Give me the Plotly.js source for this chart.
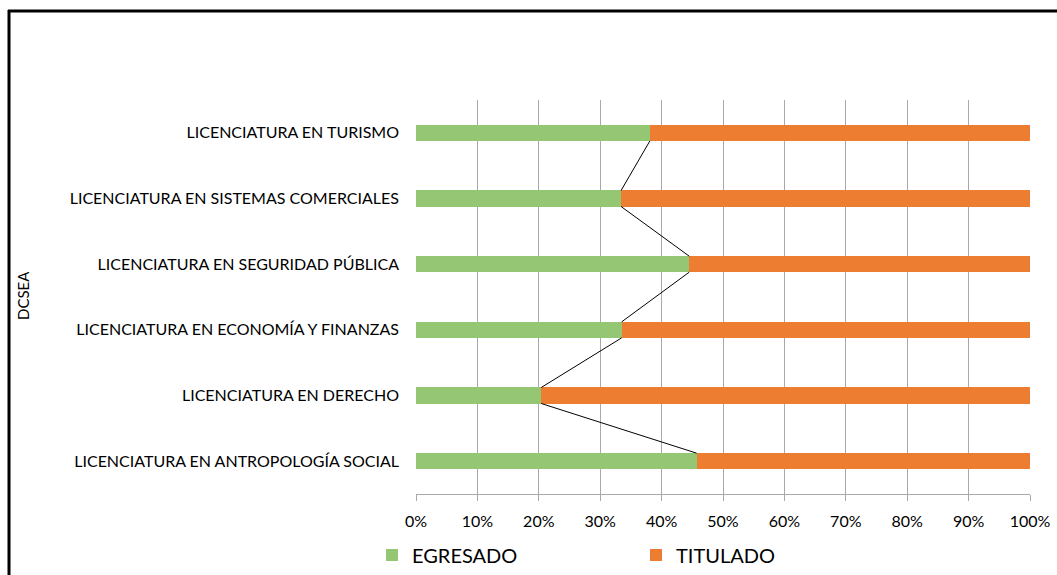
<!DOCTYPE html>
<html>
<head>
<meta charset="utf-8">
<script src="https://cdn.plot.ly/plotly-3.0.1.min.js"></script>
<style>
  html, body {margin: 0; padding: 0; background: #fff;}
  #chart {width: 1057px; height: 575px;}
</style>
</head>
<body>
<div id="chart"></div>
<script>
// categories, bottom to top as plotted
const programas = [
  'LICENCIATURA EN ANTROPOLOGÍA SOCIAL',
  'LICENCIATURA EN DERECHO',
  'LICENCIATURA EN ECONOMÍA Y FINANZAS',
  'LICENCIATURA EN SEGURIDAD PÚBLICA',
  'LICENCIATURA EN SISTEMAS COMERCIALES',
  'LICENCIATURA EN TURISMO'
];
const egresado = [45.7, 20.4, 33.5, 44.5, 33.4, 38.1];
const titulado = [54.3, 79.6, 66.5, 55.5, 66.6, 61.9];
const xTicks = [0, 10, 20, 30, 40, 50, 60, 70, 80, 90, 100];

const W = 1057, H = 575;
const FONT = 'Lato, "Open Sans", sans-serif';
const barW = 0.244;
const pos = programas.map((_, i) => i);

// series lines between green bar ends (top edge of lower bar -> bottom edge of upper bar)
const slX = [], slY = [];
for (let i = 0; i < egresado.length - 1; i++) {
  slX.push(egresado[i], egresado[i + 1], null);
  slY.push(pos[i] + barW / 2, pos[i + 1] - barW / 2, null);
}

const traces = [
  {type: 'bar', orientation: 'h', name: 'EGRESADO', x: egresado, y: pos,
   width: barW, marker: {color: '#95C673'}},
  {type: 'bar', orientation: 'h', name: 'TITULADO', x: titulado, y: pos,
   width: barW, marker: {color: '#ED7D31'}},
  {type: 'scatter', mode: 'lines', x: slX, y: slY, showlegend: false,
   line: {color: '#000', width: 1}, hoverinfo: 'skip'}
];

const px = v => v / W, py = v => 1 - v / H;

Plotly.newPlot('chart', traces, {
  width: W, height: H,
  margin: {l: 0, r: 0, t: 0, b: 0},
  paper_bgcolor: '#fff', plot_bgcolor: '#fff',
  barmode: 'stack',
  font: {family: FONT, size: 16, color: '#000'},
  xaxis: {
    domain: [px(416), px(1030)], range: [0, 100], autorange: false,
    tickvals: xTicks, ticktext: xTicks.map(v => v + '%'),
    showgrid: true, gridcolor: '#A9A9A9', gridwidth: 1,
    showline: true, linecolor: '#A9A9A9', linewidth: 1,
    ticks: 'outside', ticklen: 6, tickcolor: '#A9A9A9',
    ticklabelstandoff: 7, zeroline: false, fixedrange: true,
    tickfont: {family: FONT, size: 16, color: '#000'}
  },
  yaxis: {
    domain: [py(494), py(100)], range: [-0.5, 5.5], autorange: false,
    tickvals: pos, ticktext: programas,
    showgrid: false, zeroline: false, showline: false, ticks: '',
    ticklabelstandoff: 16, fixedrange: true,
    tickfont: {family: FONT, size: 16, color: '#000'}
  },
  showlegend: true,
  legend: {
    orientation: 'h', x: px(372), y: py(555), xanchor: 'left', yanchor: 'middle',
    font: {family: FONT, size: 20, color: '#000'},
    itemwidth: 30, entrywidth: 219, traceorder: 'normal', bgcolor: 'rgba(0,0,0,0)'
  },
  annotations: [{
    text: 'DCSEA', textangle: -90, showarrow: false,
    xref: 'paper', yref: 'paper', x: px(23), y: py(296),
    xanchor: 'center', yanchor: 'middle',
    font: {family: FONT, size: 15, color: '#000'}
  }],
  shapes: [
    {type: 'line', xref: 'paper', yref: 'paper', x0: px(9), x1: px(9), y0: py(10), y1: py(600),
     line: {color: '#000', width: 3}},
    {type: 'line', xref: 'paper', yref: 'paper', x0: px(8), x1: px(1100), y0: py(11), y1: py(11),
     line: {color: '#000', width: 3}}
  ]
}, {displayModeBar: false, staticPlot: true});
</script>
</body>
</html>
